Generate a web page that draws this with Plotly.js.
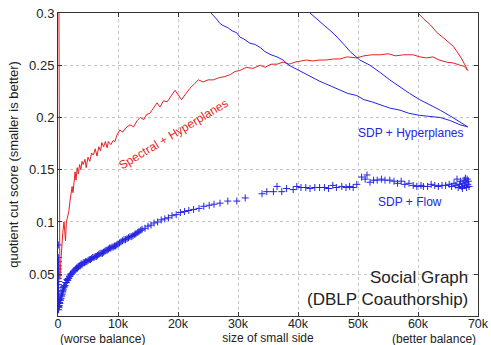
<!DOCTYPE html>
<html><head><meta charset="utf-8">
<script src="https://cdn.plot.ly/plotly-3.0.1.min.js"></script>
<style>html,body{margin:0;padding:0;background:#fff}#c{width:491px;height:345px}</style>
</head><body><div id="c"></div>
<script>
// x values in thousands of nodes (size of small side)
const xTickVals = [0,10,20,30,40,50,60,70];
const xTickText = ['0','10k','20k','30k','40k','50k','60k','70k'];
const yTickVals = [0.05,0.1,0.15,0.2,0.25,0.3];
const yTickText = ['0.05','0.1','0.15','0.2','0.25','0.3'];

const spectralX = [0.15,0.2,0.3,0.45,0.6,0.8,1.0,1.1,1.25,1.4,1.6,1.8,2.0,2.2,2.35,2.5,2.7,2.85,3.0,3.2,3.4,3.6,3.8,4.0,4.2,4.5,4.7,5.0,5.3,5.6,5.9,6.2,6.5,6.8,7.1,7.3,7.6,7.9,8.2,8.4,8.8,9.2,9.5,9.8,10.3,10.8,11.3,12.0,12.6,13.2,13.7,14.3,14.8,15.3,15.8,16.5,17.0,17.6,18.2,18.8,19.5,20.0,20.6,21.2,22.0,22.7,23.4,24.2,25.0,25.9,26.8,27.7,28.7,29.5,30.3,31.4,32.5,33.7,34.5,35.5,36.5,37.5,38.5,39.5,40.5,41.4,42.5,43.5,44.7,45.9,47.0,48.2,49.8,51.0,52.3,53.7,55.0,56.3,57.6,59.2,60.3,61.4,62.5,63.5,64.8,66.0,67.0,67.7,68.3,67.3,66.5,65.9,64.5,63.2,62.0,61.0,60.0,59.7];
const spectralY = [0.32,0.05,0.045,0.06,0.075,0.09,0.1,0.088,0.082,0.1,0.105,0.11,0.12,0.13,0.134,0.128,0.145,0.148,0.14,0.152,0.146,0.155,0.15,0.158,0.155,0.16,0.152,0.162,0.158,0.166,0.164,0.17,0.163,0.172,0.168,0.176,0.172,0.177,0.171,0.177,0.174,0.178,0.177,0.183,0.188,0.186,0.19,0.193,0.191,0.197,0.2,0.198,0.203,0.204,0.208,0.214,0.21,0.216,0.215,0.22,0.226,0.222,0.217,0.222,0.228,0.232,0.236,0.234,0.236,0.236,0.238,0.239,0.241,0.244,0.245,0.248,0.247,0.25,0.248,0.251,0.251,0.253,0.251,0.253,0.254,0.255,0.254,0.255,0.255,0.256,0.256,0.258,0.257,0.259,0.26,0.26,0.261,0.259,0.26,0.26,0.258,0.257,0.258,0.255,0.253,0.252,0.25,0.249,0.245,0.256,0.263,0.268,0.275,0.281,0.289,0.294,0.3,0.305];

const sdpHypX = [25.3,25.5,26.3,27.0,27.5,28.3,29.0,29.8,30.3,31.0,32.0,32.8,33.7,34.5,35.5,36.5,37.5,38.5,39.5,40.5,41.4,42.5,43.5,44.7,45.9,47.0,48.3,49.8,50.3,51.0,52.3,53.7,55.3,57.0,58.5,60.3,62.0,63.7,65.4,67.0,68.3,67.5,67.0,65.5,63.7,62.0,60.3,58.6,57.0,55.3,53.7,52.0,50.3,49.5,48.7,47.8,47.0,46.0,45.0,44.0,43.0,42.0,41.7];
const sdpHypY = [0.302,0.3,0.295,0.29,0.288,0.286,0.283,0.281,0.277,0.275,0.271,0.27,0.267,0.263,0.26,0.258,0.255,0.25,0.247,0.244,0.241,0.238,0.235,0.232,0.229,0.226,0.223,0.221,0.219,0.217,0.215,0.212,0.209,0.207,0.204,0.202,0.201,0.2,0.197,0.193,0.191,0.194,0.196,0.201,0.207,0.212,0.217,0.223,0.229,0.236,0.243,0.25,0.255,0.259,0.263,0.269,0.274,0.28,0.285,0.29,0.295,0.3,0.303];

const sdpFlowX = [0.05,0.05,0.08,0.05,0.1,0.06,0.1,0.05,0.12,0.08,0.1,0.06,0.12,0.08,0.1,0.06,0.12,0.08,0.15,0.2,0.25,0.3,0.35,0.4,0.5,0.55,0.6,0.7,0.75,0.8,0.9,0.95,1.0,1.1,1.2,1.3,1.4,1.5,1.6,1.7,1.8,1.9,2.0,2.1,2.2,2.35,2.5,2.65,2.8,2.95,3.1,3.25,3.4,3.55,3.7,3.85,4.0,4.2,4.4,4.6,4.8,5.0,5.2,5.4,5.6,5.8,6.0,6.2,6.4,6.6,6.8,7.0,7.2,7.4,7.6,7.8,8.0,8.2,8.4,8.6,8.8,9.0,9.2,9.4,9.6,9.8,10.0,10.25,10.5,10.75,11.0,11.25,11.5,11.75,12.0,12.3,12.5,12.8,13.0,13.3,13.5,13.8,14.0,14.5,15.0,15.5,16.0,16.6,17.2,17.8,18.4,19.0,19.7,20.4,21.1,21.8,22.6,23.5,24.3,25.2,26.0,27.0,28.3,29.8,31.2,34.0,34.8,35.9,36.5,37.3,38.1,39.2,39.8,40.5,41.3,42.0,42.8,43.6,44.4,45.1,45.8,46.4,47.3,48.0,48.6,49.2,49.8,50.6,51.2,51.5,52.0,52.6,53.2,53.9,54.5,55.3,56.0,56.6,57.2,57.8,58.5,59.2,59.8,60.5,60.9,61.6,62.2,62.8,63.4,64.0,64.6,65.2,65.6,66.0,66.3,66.5,66.7,66.9,67.1,67.3,67.5,67.7,67.8,68.0,68.1,68.2,68.3,68.4,68.5,67.9,67.4];
const sdpFlowY = [0.078,0.066,0.062,0.058,0.055,0.052,0.049,0.046,0.043,0.04,0.037,0.034,0.031,0.028,0.025,0.022,0.019,0.016,0.018,0.02,0.023,0.022,0.026,0.025,0.027,0.03,0.029,0.031,0.034,0.033,0.035,0.038,0.037,0.039,0.039,0.042,0.042,0.045,0.044,0.046,0.046,0.048,0.048,0.05,0.05,0.051,0.052,0.053,0.054,0.055,0.056,0.056,0.057,0.058,0.058,0.06,0.059,0.061,0.061,0.062,0.062,0.063,0.064,0.064,0.065,0.066,0.066,0.067,0.067,0.068,0.069,0.07,0.07,0.07,0.071,0.072,0.073,0.073,0.074,0.075,0.075,0.076,0.076,0.077,0.077,0.078,0.079,0.08,0.081,0.082,0.083,0.083,0.084,0.085,0.086,0.086,0.087,0.088,0.089,0.09,0.091,0.092,0.093,0.094,0.096,0.097,0.099,0.1,0.102,0.103,0.104,0.106,0.107,0.109,0.11,0.111,0.112,0.113,0.115,0.116,0.117,0.118,0.12,0.12,0.123,0.127,0.129,0.129,0.134,0.129,0.132,0.131,0.134,0.133,0.133,0.132,0.133,0.133,0.133,0.132,0.135,0.133,0.134,0.133,0.134,0.133,0.136,0.143,0.141,0.145,0.138,0.14,0.14,0.141,0.14,0.14,0.139,0.137,0.139,0.136,0.137,0.135,0.134,0.135,0.134,0.134,0.136,0.135,0.134,0.135,0.135,0.136,0.134,0.137,0.135,0.141,0.133,0.136,0.139,0.134,0.137,0.14,0.135,0.138,0.133,0.141,0.136,0.139,0.134,0.142,0.132];

const RED = 'rgb(232,30,36)';
const BLUE = 'rgb(36,36,226)';
const FONT = 'Liberation Sans, Arial, sans-serif';

const traces = [
  {x: sdpFlowX, y: sdpFlowY, type: 'scatter', mode: 'markers', name: 'SDP + Flow',
   marker: {symbol: 'cross-thin', size: 5, color: BLUE, line: {color: BLUE, width: 1}}},
  {x: spectralX, y: spectralY, type: 'scatter', mode: 'lines', name: 'Spectral + Hyperplanes',
   line: {color: RED, width: 1}},
  {x: sdpHypX, y: sdpHypY, type: 'scatter', mode: 'lines', name: 'SDP + Hyperplanes',
   line: {color: BLUE, width: 1}}
];

const axisCommon = {
  showline: true, mirror: 'ticks', linecolor: '#333', linewidth: 1,
  ticks: 'inside', ticklen: 4, tickcolor: '#333',
  showgrid: true, gridcolor: '#c4c4c4', griddash: 'dot', gridwidth: 1,
  zeroline: false, tickfont: {family: FONT, size: 13, color: '#222'}
};

const layout = {
  width: 491, height: 345,
  margin: {l: 58, r: 13, t: 13, b: 29},
  paper_bgcolor: '#fff', plot_bgcolor: '#fff',
  showlegend: false,
  font: {family: FONT, color: '#222'},
  xaxis: Object.assign({}, axisCommon, {
    range: [0, 70], tickmode: 'array', tickvals: xTickVals, ticktext: xTickText,
    automargin: false, ticklabelstandoff: -4,
    tickfont: {family: FONT, size: 12.5, color: '#222'},
    title: {text: 'size of small side', font: {family: FONT, size: 12, color: '#222'}, standoff: 2}
  }),
  yaxis: Object.assign({}, axisCommon, {
    range: [0.01, 0.3], tickmode: 'array', tickvals: yTickVals, ticktext: yTickText,
    automargin: false,
    title: {text: 'quotient cut score (smaller is better)', font: {family: FONT, size: 13, color: '#222'}, standoff: 7}
  }),
  annotations: [
    {x: 19.3, y: 0.184, xref: 'x', yref: 'y', text: 'Spectral + Hyperplanes', showarrow: false,
     textangle: -31, font: {family: FONT, size: 12, color: RED}},
    {x: 68.0, y: 0.185, xref: 'x', yref: 'y', xanchor: 'right', text: 'SDP + Hyperplanes', showarrow: false,
     font: {family: FONT, size: 12, color: BLUE}},
    {x: 64.3, y: 0.119, xref: 'x', yref: 'y', xanchor: 'right', text: 'SDP + Flow', showarrow: false,
     font: {family: FONT, size: 12, color: BLUE}},
    {x: 68.6, y: 0.0366, xref: 'x', yref: 'y', xanchor: 'right', yanchor: 'middle', align: 'right',
     text: 'Social Graph<br>(DBLP Coauthorship)', showarrow: false,
     font: {family: FONT, size: 17, color: '#222'}},
    {x: 0, y: -0.076, xref: 'x', yref: 'paper', xanchor: 'left', yanchor: 'middle', text: '(worse balance)', showarrow: false,
     font: {family: FONT, size: 12, color: '#222'}},
    {x: 70, y: -0.076, xref: 'x', yref: 'paper', xanchor: 'right', yanchor: 'middle', text: '(better balance)', showarrow: false,
     font: {family: FONT, size: 12, color: '#222'}}
  ]
};

Plotly.newPlot('c', traces, layout, {displayModeBar: false, staticPlot: true});
</script></body></html>
